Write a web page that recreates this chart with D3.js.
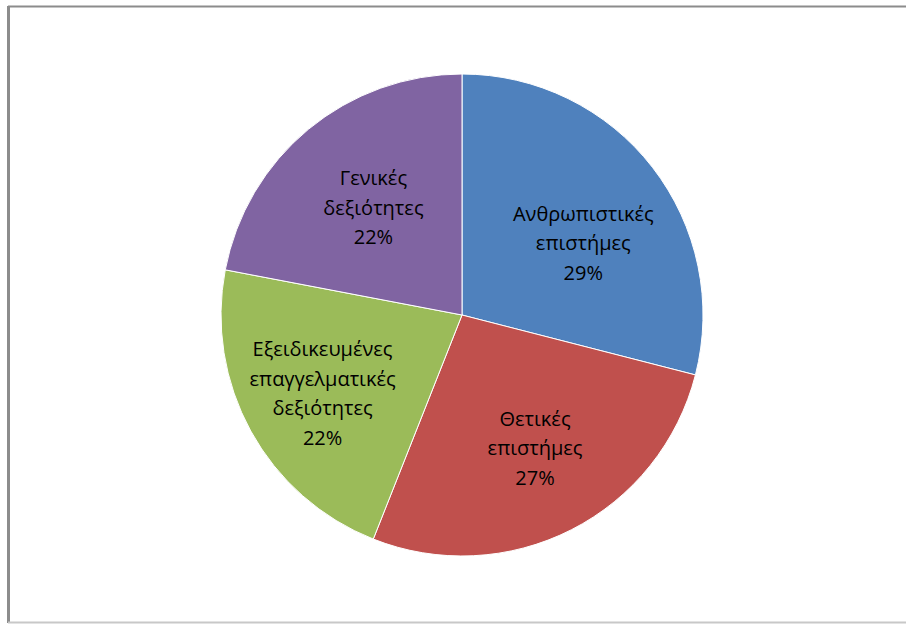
<!DOCTYPE html>
<html>
<head>
<meta charset="utf-8">
<script src="https://cdn.jsdelivr.net/npm/d3@7"></script>
<style>
  html, body { margin: 0; padding: 0; background: #fff; }
  svg { display: block; }
</style>
</head>
<body>
<svg id="chart" width="906" height="624"></svg>
<script>
// Skill areas and their shares (%)
const categories = [
  ["Ανθρωπιστικές", "επιστήμες"],
  ["Θετικές", "επιστήμες"],
  ["Εξειδικευμένες", "επαγγελματικές", "δεξιότητες"],
  ["Γενικές", "δεξιότητες"]
];
const values = [29, 27, 22, 22];
const colors = ["#4F81BD", "#C0504D", "#9BBB59", "#8064A2"];

const W = 906, H = 624;
const cx = 462, cy = 315, R = 241;
const svg = d3.select("#chart");

// chart frame: darker top/left edges, light bottom edge
svg.append("line")
  .attr("x1", 8).attr("y1", 6.5).attr("x2", W).attr("y2", 6.5)
  .attr("stroke", "#8c8c8c").attr("stroke-width", 2);
svg.append("line")
  .attr("x1", 8.5).attr("y1", 6).attr("x2", 8.5).attr("y2", 623)
  .attr("stroke", "#8c8c8c").attr("stroke-width", 3);
svg.append("line")
  .attr("x1", 8).attr("y1", 622.5).attr("x2", W).attr("y2", 622.5)
  .attr("stroke", "#c8c8c8").attr("stroke-width", 2);

const pie = d3.pie().sort(null).value(d => d)(values);
const arc = d3.arc().innerRadius(0).outerRadius(R);

const g = svg.append("g").attr("transform", `translate(${cx},${cy})`);

g.selectAll("path.slice")
  .data(pie)
  .join("path")
  .attr("class", "slice")
  .attr("d", arc)
  .attr("fill", (d, i) => colors[i])
  .attr("stroke", "#fff")
  .attr("stroke-width", 1);

// labels sit on an inner ring, nudged per slice for best fit
const labelRadius = [141, 152, 160, 139];
const labelTurn = [0.125, -0.03, -0.01, 0];
const lineH = 29.5;
const fontSize = 20;

pie.forEach((d, i) => {
  const mid = (d.startAngle + d.endAngle) / 2 + labelTurn[i];
  const lx = Math.sin(mid) * labelRadius[i];
  const ly = -Math.cos(mid) * labelRadius[i];
  const lines = categories[i].concat([d.data + "%"]);
  const t = g.append("text")
    .attr("text-anchor", "middle")
    .attr("font-family", "'Open Sans', 'Noto Sans', sans-serif")
    .attr("font-size", fontSize)
    .attr("fill", "#000");
  lines.forEach((s, k) => {
    t.append("tspan")
      .attr("x", lx)
      .attr("y", ly + (k - (lines.length - 1) / 2) * lineH)
      .attr("dy", "0.35em")
      .text(s);
  });
});
</script>
</body>
</html>
